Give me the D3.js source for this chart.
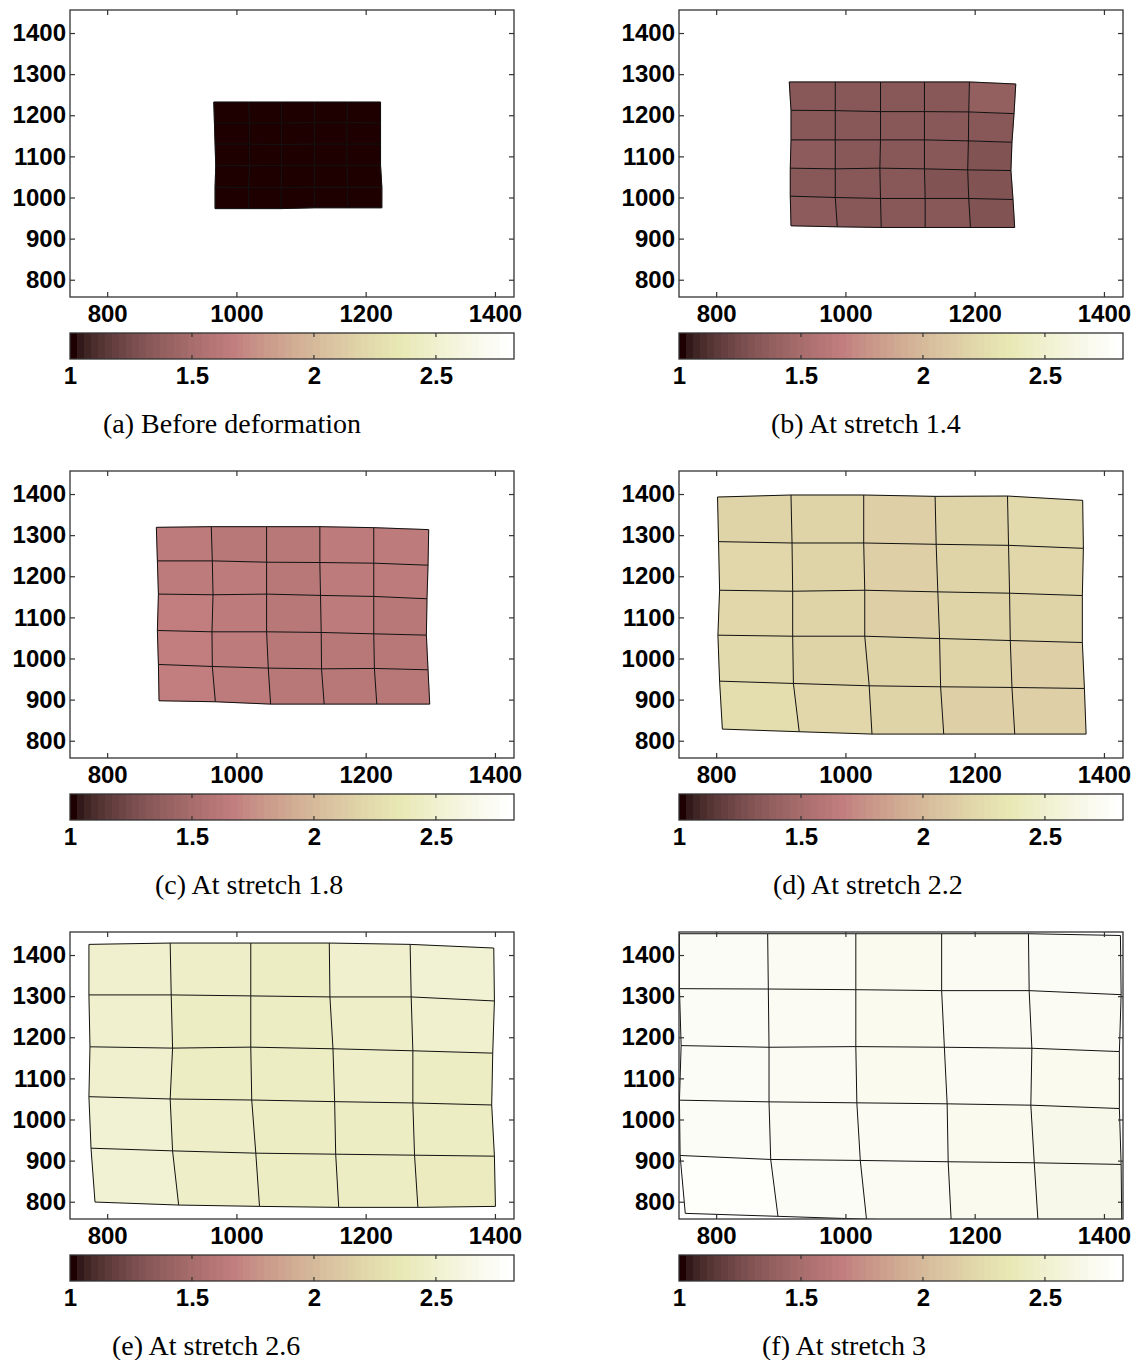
<!DOCTYPE html>
<html>
<head>
<meta charset="utf-8">
<script src="https://cdn.jsdelivr.net/npm/d3@7/dist/d3.min.js"></script>
<style>
  body { margin: 0; background: #fff; }
  .lbl text { font-family: "Liberation Sans", Arial, sans-serif; font-weight: bold; font-size: 24px; fill: #000; }
  .cap { font-family: "Liberation Serif", "Times New Roman", serif; font-size: 28px; fill: #000; }
</style>
</head>
<body>
<svg id="fig" width="1137" height="1360"></svg>
<script>
// ---- axis settings -------------------------------------------------------
const xTicks = [800, 1000, 1200, 1400];
const yTicks = [800, 900, 1000, 1100, 1200, 1300, 1400];
const cbarTicks = [1, 1.5, 2, 2.5];
const xLimits = [742.5, 1429.5];
const yLimits = [758, 1456];
const cLimits = [1, 2.82];
const captions = [
  "(a) Before deformation", "(b) At stretch 1.4",
  "(c) At stretch 1.8", "(d) At stretch 2.2",
  "(e) At stretch 2.6", "(f) At stretch 3"
];

// ---- mesh node coordinates (rows listed bottom -> top, 6 x 6 nodes) -------
const meshAX = [
  [967, 1019, 1069, 1121, 1172, 1225],
  [967, 1019, 1069, 1121, 1172, 1225],
  [968, 1020, 1070, 1121, 1171, 1223],
  [967, 1020, 1070, 1121, 1171, 1223],
  [966, 1020, 1070, 1121, 1171, 1223],
  [965, 1019, 1070, 1121, 1172, 1223]];
const meshAY = [
  [973, 973, 973, 975, 975, 975],
  [1025, 1024, 1024, 1025, 1025, 1025],
  [1078, 1077, 1078, 1078, 1078, 1078],
  [1130, 1130, 1129, 1130, 1130, 1130],
  [1181, 1181, 1181, 1182, 1182, 1181],
  [1232, 1232, 1232, 1232, 1232, 1232]];

const meshBX = [
  [915.8, 987.4, 1055.4, 1123.4, 1193.5, 1261.9],
  [914.7, 984.3, 1054.3, 1123.4, 1190.8, 1259.3],
  [914.7, 984.3, 1053.3, 1122.3, 1189.2, 1256.1],
  [915.8, 984.3, 1054.3, 1122.3, 1190.3, 1257.7],
  [915.8, 984.3, 1054.3, 1122.3, 1190.8, 1260.9],
  [913.1, 984.3, 1054.3, 1122.3, 1191.9, 1263.6]];
const meshBY = [
  [931.2, 928.7, 927.1, 927.1, 927.1, 927.1],
  [1003.2, 1000, 997.6, 997.6, 997.6, 995.1],
  [1071.3, 1069.7, 1071.3, 1069.7, 1067.2, 1065.6],
  [1140.1, 1140.1, 1140.1, 1140.1, 1137.7, 1134.4],
  [1212.1, 1211.3, 1208.9, 1208.9, 1208.1, 1204],
  [1281, 1281, 1281, 1281, 1281, 1276]];

const meshCX = [
  [880.3, 967.4, 1052.9, 1135.8, 1217.2, 1299.1],
  [879.3, 962.7, 1049.3, 1131.7, 1213.5, 1296.5],
  [877.7, 962.2, 1046.7, 1131.2, 1212.5, 1293.9],
  [879.3, 963.8, 1046.7, 1130.1, 1212.5, 1294.9],
  [877.7, 962.7, 1046.7, 1129.1, 1212.5, 1296.5],
  [876.1, 961.1, 1046.7, 1129.1, 1212.5, 1297.5]];
const meshCY = [
  [897.2, 894.8, 889.1, 889.1, 889.1, 889.1],
  [985.5, 980.6, 976.6, 974.9, 975.8, 972.5],
  [1068.1, 1064.9, 1064.9, 1063.3, 1060, 1056.8],
  [1156.6, 1155, 1156.6, 1153.4, 1150.9, 1145.3],
  [1237.4, 1237.4, 1234.2, 1233.4, 1231.8, 1226.9],
  [1319, 1320.6, 1320.6, 1320.6, 1318.2, 1313.4]];

const meshDX = [
  [809.6, 928.5, 1041.1, 1152.1, 1262, 1372.4],
  [805.3, 919.5, 1036.8, 1147.3, 1257.7, 1369.8],
  [802.7, 918.4, 1029.9, 1145.7, 1255.1, 1366.6],
  [805.3, 918.4, 1029.9, 1143, 1254, 1366.6],
  [803.7, 917.4, 1028.3, 1140.4, 1252.4, 1368.2],
  [802.1, 915.8, 1028.3, 1138.8, 1250.8, 1367.1]];
const meshDY = [
  [828.3, 821.9, 816.2, 816.2, 816.2, 816.2],
  [944.9, 939.3, 933.6, 931.2, 929.6, 927.1],
  [1056.7, 1054.2, 1054.2, 1048.6, 1043.7, 1038.9],
  [1166, 1163.6, 1166, 1162, 1158.8, 1153.1],
  [1284.2, 1280.9, 1280.9, 1277.7, 1275.2, 1267.9],
  [1392.7, 1397.6, 1397.6, 1394.3, 1395.1, 1384.6]];

const meshEX = [
  [781.2, 910.6, 1035.7, 1158.3, 1280.8, 1400.8],
  [775, 901.2, 1030, 1153.6, 1275.6, 1399.2],
  [771.8, 897.5, 1023.7, 1152, 1273, 1395],
  [773.4, 901.2, 1022.2, 1149.4, 1273, 1396.6],
  [771.8, 899.1, 1022.2, 1144.7, 1270.4, 1399.2],
  [771.8, 897.5, 1022.2, 1143.7, 1268.8, 1398.2]];
const meshEY = [
  [799.2, 791.9, 788.7, 786.3, 786.3, 788.7],
  [930.2, 923.7, 918.1, 915.6, 913.2, 910.8],
  [1055.5, 1049.9, 1047.4, 1043.4, 1040.2, 1035.3],
  [1176.8, 1173.6, 1176, 1172, 1167.1, 1161.4],
  [1303, 1303, 1300.6, 1298.1, 1298.1, 1288.3],
  [1425.9, 1429.1, 1429.1, 1429.1, 1425.9, 1417]];

const meshFX = [
  [752.2, 895.6, 1032.6, 1163.7, 1298.1, 1427.6],
  [744.2, 884.4, 1023, 1159, 1292.2, 1426.6],
  [743.2, 881.8, 1017.7, 1157.4, 1286.9, 1423.9],
  [745.8, 881.8, 1016.1, 1153.1, 1288.5, 1423.9],
  [743.2, 880.7, 1016.1, 1148.9, 1284.3, 1426.6],
  [743.2, 879.7, 1016.1, 1148.9, 1283.2, 1425.5]];
const meshFY = [
  [771.7, 764.5, 757.5, 752, 750, 750],
  [912.5, 902.8, 900.4, 897.2, 894.7, 890.7],
  [1047, 1042.9, 1040.5, 1038.1, 1034.8, 1026.7],
  [1179.7, 1175.7, 1177.3, 1175.7, 1173.2, 1165.2],
  [1318.2, 1317.3, 1315.7, 1313.4, 1313.4, 1303.6],
  [1451.8, 1451.8, 1451.8, 1451.8, 1451.8, 1447.5]];

// ---- local stretch per element (rows bottom -> top, 5 x 5 cells) ---------
const stretchA = [
  [1.0, 1.0, 1.0, 1.0, 1.0],
  [1.0, 1.0, 1.0, 1.0, 1.0],
  [1.0, 1.0, 1.0, 1.0, 1.0],
  [1.0, 1.0, 1.0, 1.0, 1.0],
  [1.0, 1.0, 1.0, 1.0, 1.0]];
const stretchB = [
  [1.35, 1.33, 1.32, 1.32, 1.30],
  [1.34, 1.32, 1.32, 1.31, 1.30],
  [1.35, 1.33, 1.32, 1.32, 1.31],
  [1.34, 1.33, 1.32, 1.33, 1.34],
  [1.34, 1.34, 1.33, 1.34, 1.37]];
const stretchC = [
  [1.67, 1.64, 1.61, 1.62, 1.60],
  [1.67, 1.63, 1.61, 1.62, 1.61],
  [1.66, 1.63, 1.62, 1.64, 1.61],
  [1.65, 1.63, 1.62, 1.64, 1.63],
  [1.64, 1.62, 1.61, 1.63, 1.65]];
const stretchD = [
  [2.26, 2.20, 2.17, 2.16, 2.14],
  [2.24, 2.19, 2.17, 2.18, 2.15],
  [2.22, 2.18, 2.16, 2.18, 2.17],
  [2.20, 2.17, 2.15, 2.18, 2.21],
  [2.19, 2.17, 2.15, 2.19, 2.23]];
const stretchE = [
  [2.52, 2.47, 2.45, 2.44, 2.41],
  [2.51, 2.46, 2.45, 2.45, 2.43],
  [2.50, 2.45, 2.44, 2.46, 2.45],
  [2.49, 2.45, 2.43, 2.47, 2.49],
  [2.49, 2.46, 2.43, 2.48, 2.52]];
const stretchF = [
  [2.77, 2.74, 2.71, 2.69, 2.66],
  [2.76, 2.73, 2.71, 2.70, 2.67],
  [2.75, 2.72, 2.70, 2.71, 2.70],
  [2.74, 2.71, 2.69, 2.72, 2.73],
  [2.74, 2.72, 2.69, 2.73, 2.76]];

const panels = [
  { X: meshAX, Y: meshAY, V: stretchA },
  { X: meshBX, Y: meshBY, V: stretchB },
  { X: meshCX, Y: meshCY, V: stretchC },
  { X: meshDX, Y: meshDY, V: stretchD },
  { X: meshEX, Y: meshEY, V: stretchE },
  { X: meshFX, Y: meshFY, V: stretchF }
];

// ---- "pink" colormap: sqrt((2*gray + hot)/3), 64 levels -----------------
function pinkColormap(m) {
  const n = Math.floor(3 / 8 * m);
  const out = [];
  for (let k = 0; k < m; k++) {
    const g = k / (m - 1);
    const hr = k < n ? (k + 1) / n : 1;
    const hg = k < n ? 0 : (k < 2 * n ? (k - n + 1) / n : 1);
    const hb = k < 2 * n ? 0 : (k - 2 * n + 1) / (m - 2 * n);
    const f = h => Math.round(255 * Math.sqrt((2 * g + h) / 3));
    out.push(d3.rgb(f(hr), f(hg), f(hb)).formatHex());
  }
  return out;
}
const cmap = pinkColormap(64);
const color = d3.scaleQuantize().domain(cLimits).range(cmap);

// ---- layout ---------------------------------------------------------------
const colLeft = [70, 679];
const plotW = 444, plotH = 287;
const rowTop = 10, rowStep = 461;
const cbarGap = 36, cbarH = 26;
const captionX = [103, 771, 155, 773, 112, 762];
const captionY = 433;
const frameColor = "#333";

const svg = d3.select("#fig");
const defs = svg.append("defs");

panels.forEach((p, idx) => {
  const col = idx % 2, row = Math.floor(idx / 2);
  const left = colLeft[col], top = rowTop + row * rowStep;
  const g = svg.append("g").attr("transform", `translate(${left},${top})`);

  const x = d3.scaleLinear().domain(xLimits).range([0, plotW]);
  const y = d3.scaleLinear().domain(yLimits).range([plotH, 0]);

  const clipId = "clip" + idx;
  defs.append("clipPath").attr("id", clipId)
    .append("rect").attr("width", plotW).attr("height", plotH);

  const mesh = g.append("g").attr("clip-path", `url(#${clipId})`);

  // filled elements
  const cells = [];
  for (let j = 0; j < 5; j++) {
    for (let i = 0; i < 5; i++) {
      const pts = [[j, i], [j, i + 1], [j + 1, i + 1], [j + 1, i]]
        .map(([r, c]) => [x(p.X[r][c]), y(p.Y[r][c])]);
      cells.push({ pts, v: p.V[j][i] });
    }
  }
  mesh.selectAll("path.cell").data(cells).join("path")
    .attr("class", "cell")
    .attr("d", d => "M" + d.pts.join("L") + "Z")
    .attr("fill", d => color(d.v))
    .attr("stroke", d => color(d.v))
    .attr("stroke-width", 0.6);

  // element edges
  const line = d3.line();
  const rowsLines = p.X.map((xs, r) => xs.map((xv, c) => [x(xv), y(p.Y[r][c])]));
  const colsLines = d3.range(6).map(c => d3.range(6).map(r => [x(p.X[r][c]), y(p.Y[r][c])]));
  mesh.selectAll("path.edge").data(rowsLines.concat(colsLines)).join("path")
    .attr("class", "edge")
    .attr("d", line)
    .attr("fill", "none")
    .attr("stroke", "#111")
    .attr("stroke-width", 1);

  // axes with inward ticks on all four sides
  const tk = 5;
  const bottom = g.append("g").attr("class", "lbl").attr("transform", `translate(0,${plotH})`)
    .call(d3.axisBottom(x).tickValues(xTicks).tickSize(-tk).tickSizeOuter(0).tickPadding(8.3).tickFormat(d3.format("d")));
  const leftAx = g.append("g").attr("class", "lbl")
    .call(d3.axisLeft(y).tickValues(yTicks).tickSize(-tk).tickSizeOuter(0).tickPadding(4).tickFormat(d3.format("d")));
  const topAx = g.append("g")
    .call(d3.axisTop(x).tickValues(xTicks).tickSize(-tk).tickSizeOuter(0).tickFormat(""));
  const rightAx = g.append("g").attr("transform", `translate(${plotW},0)`)
    .call(d3.axisRight(y).tickValues(yTicks).tickSize(-tk).tickSizeOuter(0).tickFormat(""));
  [bottom, leftAx, topAx, rightAx].forEach(a => {
    a.select(".domain").remove();
    a.selectAll(".tick line").attr("stroke", frameColor).attr("stroke-width", 1.2);
    a.selectAll("text").attr("font-family", null).attr("font-size", null);
  });

  g.append("rect").attr("width", plotW).attr("height", plotH)
    .attr("fill", "none").attr("stroke", frameColor).attr("stroke-width", 1.3);

  // colorbar
  const cb = g.append("g").attr("transform", `translate(0,${plotH + cbarGap})`);
  const c = d3.scaleLinear().domain(cLimits).range([0, plotW]);
  const step = (cLimits[1] - cLimits[0]) / cmap.length;
  cb.selectAll("rect.sw").data(cmap).join("rect")
    .attr("class", "sw")
    .attr("x", (d, k) => c(cLimits[0] + k * step))
    .attr("width", (d, k) => c(cLimits[0] + (k + 1) * step) - c(cLimits[0] + k * step) + 0.5)
    .attr("height", cbarH)
    .attr("fill", d => d)
    .attr("shape-rendering", "crispEdges");
  const inner = cbarTicks.filter(t => t > cLimits[0]);
  cb.selectAll("line.tt").data(inner).join("line").attr("class", "tt")
    .attr("x1", d => c(d)).attr("x2", d => c(d)).attr("y1", 0).attr("y2", 4)
    .attr("stroke", frameColor).attr("stroke-width", 1.2);
  cb.selectAll("line.tb").data(inner).join("line").attr("class", "tb")
    .attr("x1", d => c(d)).attr("x2", d => c(d)).attr("y1", cbarH - 4).attr("y2", cbarH)
    .attr("stroke", frameColor).attr("stroke-width", 1.2);
  cb.append("rect").attr("width", plotW).attr("height", cbarH)
    .attr("fill", "none").attr("stroke", frameColor).attr("stroke-width", 1.3);
  const cAx = cb.append("g").attr("class", "lbl").attr("transform", `translate(0,${cbarH})`)
    .call(d3.axisBottom(c).tickValues(cbarTicks).tickSize(0).tickPadding(8).tickFormat(d3.format("")));
  cAx.select(".domain").remove();
  cAx.selectAll("text").attr("font-family", null).attr("font-size", null);

  // caption
  svg.append("text").attr("class", "cap")
    .attr("x", captionX[idx]).attr("y", captionY + row * rowStep)
    .text(captions[idx]);
});
</script>
</body>
</html>
